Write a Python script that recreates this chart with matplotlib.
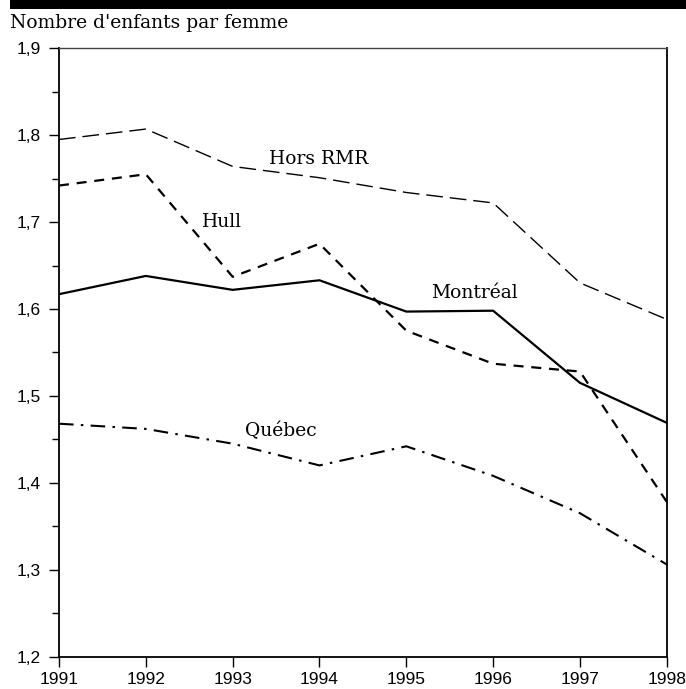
import matplotlib
matplotlib.use('Agg')
import matplotlib.pyplot as plt
from matplotlib.ticker import MultipleLocator, FuncFormatter

# Data
years = [1991, 1992, 1993, 1994, 1995, 1996, 1997, 1998]
horsRmr = [1.795, 1.807, 1.764, 1.751, 1.734, 1.722, 1.630, 1.588]
hull = [1.742, 1.755, 1.637, 1.675, 1.575, 1.537, 1.528, 1.378]
montreal = [1.617, 1.638, 1.622, 1.633, 1.597, 1.598, 1.515, 1.469]
quebec = [1.468, 1.462, 1.445, 1.420, 1.442, 1.408, 1.365, 1.306]

yTicks = [1.2, 1.3, 1.4, 1.5, 1.6, 1.7, 1.8, 1.9]

serif = ['DejaVu Serif']
sans = ['Liberation Sans Narrow', 'Liberation Sans', 'DejaVu Sans']

fig = plt.figure(figsize=(6.86, 6.89), dpi=100)
ax = fig.add_axes([0.086, 0.047, 0.886, 0.883])

# Series
ax.plot(years, horsRmr, color='black', lw=1.0, dashes=(12, 5))
ax.plot(years, hull, color='black', lw=1.6, dashes=(4.5, 3.5))
ax.plot(years, montreal, color='black', lw=1.6)
ax.plot(years, quebec, color='black', lw=1.5, dashes=(7, 3.5, 1.2, 3.5))

# In-chart labels
lblSize = 13.5
ax.text(1993.99, 1.773, 'Hors RMR', family=serif, fontsize=lblSize, ha='center', va='center')
ax.text(1992.88, 1.700, 'Hull', family=serif, fontsize=lblSize, ha='center', va='center')
ax.text(1995.79, 1.618, 'Montréal', family=serif, fontsize=lblSize, ha='center', va='center')
ax.text(1993.55, 1.460, 'Québec', family=serif, fontsize=lblSize, ha='center', va='center')

ax.set_xlim(years[0], years[-1])
ax.set_ylim(yTicks[0], yTicks[-1])
ax.set_xticks(years)
ax.set_yticks(yTicks)
ax.yaxis.set_minor_locator(MultipleLocator(0.05))
ax.yaxis.set_major_formatter(FuncFormatter(lambda v, p: f"{v:.1f}".replace('.', ',')))

ax.tick_params(axis='both', which='major', direction='out', length=7, width=1.0,
               labelsize=12.5, colors='black')
ax.tick_params(axis='y', which='minor', direction='out', length=5, width=1.0)
ax.tick_params(axis='x', pad=4)
ax.tick_params(axis='y', pad=6)
for lbl in ax.get_xticklabels() + ax.get_yticklabels():
    lbl.set_family(sans)

for side in ['left', 'bottom', 'right']:
    ax.spines[side].set_linewidth(1.3)
ax.spines['top'].set_linewidth(1.0)
ax.spines['top'].set_color('#444444')

# Header bar and title
fig.add_artist(plt.Rectangle((0.015, 0.987), 0.985, 0.013, transform=fig.transFigure,
                             color='black', lw=0))
fig.text(0.015, 0.967, "Nombre d'enfants par femme", family=serif, fontsize=13.5,
         ha='left', va='center')

fig.savefig('out.png', dpi=100)
